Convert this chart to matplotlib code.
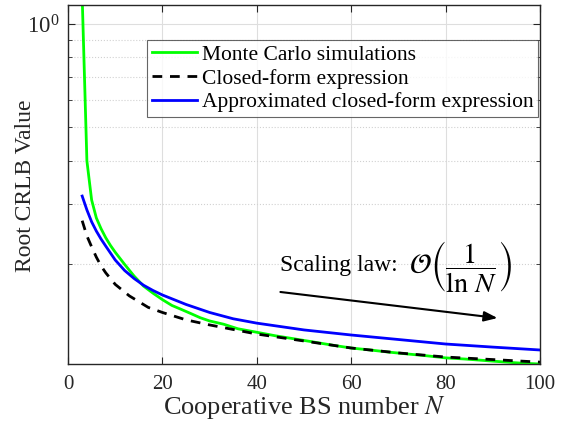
import matplotlib
matplotlib.use("Agg")
import matplotlib.pyplot as plt
import matplotlib.ticker as mticker
import numpy as np

plt.rcParams["font.family"] = ["Liberation Serif", "DejaVu Serif"]
plt.rcParams["mathtext.fontset"] = "stix"

# Monte Carlo simulations
n_mc = [3, 4, 5, 6, 7, 8, 9, 10, 12, 14, 16, 18, 20, 22, 24, 26, 28, 30, 33, 36,
        40, 44, 48, 52, 56, 60, 64, 68, 72, 76, 80, 84, 88, 92, 96, 100]
crlb_mc = [1.20, 0.400, 0.308, 0.273, 0.254, 0.239, 0.227, 0.217, 0.200, 0.185,
           0.173, 0.165, 0.158, 0.152, 0.148, 0.144, 0.140, 0.137, 0.134, 0.130,
           0.127, 0.124, 0.1215, 0.119, 0.1165, 0.1143, 0.1128, 0.1112, 0.1098, 0.1085,
           0.1070, 0.1062, 0.1052, 0.1042, 0.1033, 0.1027]

# Closed-form expression
n_cf = [3, 4, 5, 6, 7, 8, 10, 13, 17, 20, 25, 30, 40, 50, 60, 70, 80, 90, 100]
crlb_cf = [0.268, 0.242, 0.225, 0.210, 0.198, 0.189, 0.175, 0.162, 0.150, 0.145,
           0.138, 0.1334, 0.1255, 0.1198, 0.1143, 0.1106, 0.1076, 0.1058, 0.1040]

# Approximated closed-form expression
n_ap = [3, 4, 5, 6, 7, 8, 10, 12, 14, 16, 18, 20, 25, 30, 35, 40, 50, 60, 70, 80, 90, 100]
crlb_ap = [0.316, 0.288, 0.266, 0.250, 0.237, 0.226, 0.206, 0.192, 0.182, 0.174,
           0.168, 0.163, 0.153, 0.145, 0.139, 0.135, 0.129, 0.1247, 0.121, 0.1174,
           0.1150, 0.1128]

labels = ["Monte Carlo simulations", "Closed-form expression",
          "Approximated closed-form expression"]

fig = plt.figure(figsize=(5.73, 4.24), dpi=100)
ax = fig.add_axes([0.1187, 0.1415, 0.8237, 0.8467])

ax.plot(n_mc, crlb_mc, color=(0, 1, 0), linewidth=2.0, label=labels[0])
ax.plot(n_cf, crlb_cf, color="black", linewidth=2.0, dashes=(3.5, 2.8), label=labels[1])
ax.plot(n_ap, crlb_ap, color=(0, 0, 1), linewidth=2.0, label=labels[2])

ax.set_yscale("log")
ax.set_xlim(0, 100)
ax.set_ylim(0.1027, 1.135)
ax.set_xticks(np.arange(0, 101, 20))
ax.yaxis.set_major_locator(mticker.LogLocator(base=10, subs=[1.0]))
ax.yaxis.set_minor_locator(mticker.LogLocator(base=10, subs=np.arange(2, 10)))
ax.yaxis.set_minor_formatter(mticker.NullFormatter())

# MATLAB-like box, grid and ticks
frame = (0.15, 0.15, 0.15)
for s in ax.spines.values():
    s.set_color(frame)
    s.set_linewidth(1.0)
ax.tick_params(which="both", direction="in", top=True, right=True, colors=frame,
               labelsize=15, pad=8)
ax.tick_params(axis="y", which="major", labelsize=16.5, pad=6)
ax.tick_params(which="major", length=5)
ax.tick_params(which="minor", length=3)
ax.grid(True, which="major", color="0.87", linewidth=0.8)
ax.grid(True, which="minor", axis="y", color="0.82", linestyle=":", linewidth=0.8)
ax.set_axisbelow(True)

ax.set_xlabel("Cooperative BS number $N$", fontsize=19, color=frame, labelpad=0)
ax.set_ylabel("Root CRLB Value", fontsize=17, color=frame)
ax.yaxis.set_label_coords(-0.068, 0.496)

leg = ax.legend(loc="upper right", bbox_to_anchor=(0.9958, 0.9025), borderaxespad=0,
                fontsize=15.5, frameon=True, fancybox=False, handlelength=2.1,
                handletextpad=0.2, labelspacing=0.17, borderpad=0.22)
leg.get_frame().set_edgecolor("0.25")
leg.get_frame().set_linewidth(0.8)

# Scaling-law annotation
ax.annotate("", xy=(91, 0.1397), xytext=(45, 0.1663),
            arrowprops=dict(arrowstyle="-|>,head_length=0.8,head_width=0.3",
                            color="black", linewidth=1.5, shrinkA=0, shrinkB=0))
ax.text(45, 0.198, "Scaling law:", fontsize=17, va="center", ha="left")
ax.text(72.3, 0.197, r"$\mathcal{O}\left(\dfrac{1}{\ln\,N}\right)$",
        fontsize=20.5, va="center", ha="left")

fig.savefig("out.png", dpi=100)
